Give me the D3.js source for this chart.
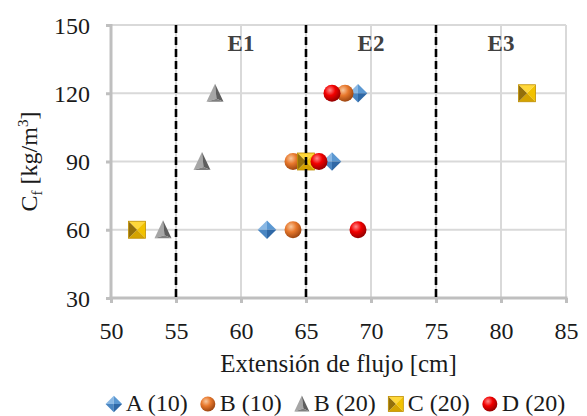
<!DOCTYPE html>
<html><head><meta charset="utf-8">
<script src="https://cdn.jsdelivr.net/npm/d3@7"></script>
<style>body{margin:0;background:#fff}svg{display:block}</style>
</head><body>
<svg id="c" width="587" height="416"></svg>
<script>
// ---- data ----
const xTicks = [50, 55, 60, 65, 70, 75, 80, 85];
const yTicks = [30, 60, 90, 120, 150];
const zoneBounds = [55, 65, 75];
const zoneLabels = ["E1", "E2", "E3"];
const zoneLabelX = [60, 70, 80];
const zoneLabelY = 140;
const seriesNames = ["A (10)", "B (10)", "B (20)", "C (20)", "D (20)"];
const seriesShapes = ["diamond", "orange", "triangle", "square", "red"];
const cfValues = [60, 90, 120];
const A10 = [62, 67, 69];
const B10 = [64, 64, 68];
const B20 = [54, 57, 58];
const C20 = [52, 65, 82];
const D20 = [69, 66, 67];
const seriesX = [A10, B10, B20, C20, D20];

const FONT = '"Liberation Serif"';
const svg = d3.select("#c");
const L = 111, R = 566, T = 25, B = 298;
const x = d3.scaleLinear().domain([50, 85]).range([L, R]);
const y = d3.scaleLinear().domain([30, 150]).range([B, T]);

// gradients
const defs = svg.append("defs");
function radial(id, c0, c1, c2) {
  const g = defs.append("radialGradient").attr("id", id)
    .attr("cx", "0.38").attr("cy", "0.32").attr("r", "0.7");
  g.append("stop").attr("offset", "0").attr("stop-color", c0);
  g.append("stop").attr("offset", "0.45").attr("stop-color", c1);
  g.append("stop").attr("offset", "1").attr("stop-color", c2);
}
radial("gOrange", "#f8c9a0", "#e8782c", "#9a4410");
radial("gRed", "#ff8a8a", "#f20000", "#900000");

// grid
const grid = svg.append("g");
grid.selectAll("line.gx").data(xTicks.slice(1)).join("line")
  .attr("x1", d => x(d)).attr("x2", d => x(d)).attr("y1", T).attr("y2", B)
  .attr("stroke", "#d9d9d9").attr("stroke-width", 2);
grid.selectAll("line.gy").data(yTicks.slice(1)).join("line")
  .attr("x1", L).attr("x2", R).attr("y1", d => y(d)).attr("y2", d => y(d))
  .attr("stroke", "#d9d9d9").attr("stroke-width", 2);

// axes
const xAxis = svg.append("g").attr("transform", `translate(0,${B})`)
  .call(d3.axisBottom(x).tickValues(xTicks).tickSize(5).tickPadding(19));
const yAxis = svg.append("g").attr("transform", `translate(${L},0)`)
  .call(d3.axisLeft(y).tickValues(yTicks).tickSize(5).tickPadding(16));
[xAxis, yAxis].forEach(a => {
  a.attr("font-family", null).attr("font-size", null);
  a.selectAll(".tick line").attr("stroke", "#bfbfbf").attr("stroke-width", 3);
  a.selectAll(".tick text").style("font-family", FONT).style("font-size", "24px").attr("fill", "#1a1a1a");
  a.select(".domain").remove();
});
xAxis.selectAll(".tick text").attr("dy", "0.71em");
yAxis.selectAll(".tick text").attr("dy", "0.34em");
svg.append("line").attr("x1", L - 1.5).attr("x2", R + 1.5).attr("y1", B).attr("y2", B)
  .attr("stroke", "#bfbfbf").attr("stroke-width", 3);
svg.append("line").attr("x1", L).attr("x2", L).attr("y1", T - 1).attr("y2", B + 1.5)
  .attr("stroke", "#bfbfbf").attr("stroke-width", 3);

// markers
function drawMarker(g, shape, s) {
  const h = s / 2;
  if (shape === "diamond") {
    const d = h + 0.8;
    const faces = [
      [[0,-d],[-d,0],[0,0], "#8ab8e4"],
      [[0,-d],[d,0],[0,0], "#5b98d2"],
      [[-d,0],[0,d],[0,0], "#4a86c2"],
      [[d,0],[0,d],[0,0], "#2f68a6"]
    ];
    faces.forEach(f => g.append("path").attr("d", `M${f[0]}L${f[1]}L${f[2]}Z`).attr("fill", f[3]));
  } else if (shape === "square") {
    const faces = [
      [[-h,-h],[h,-h],[0,0], "#ffd83a"],
      [[h,-h],[h,h],[0,0], "#f2c200"],
      [[h,h],[-h,h],[0,0], "#d4a300"],
      [[-h,h],[-h,-h],[0,0], "#94700a"]
    ];
    faces.forEach(f => g.append("path").attr("d", `M${f[0]}L${f[1]}L${f[2]}Z`).attr("fill", f[3]));
    g.append("rect").attr("x", -h).attr("y", -h).attr("width", s).attr("height", s)
      .attr("fill", "none").attr("stroke", "#c09000").attr("stroke-width", 0.8);
  } else if (shape === "triangle") {
    const top = [0, -h - 1], bl = [-h, h], br = [h, h], c = [1.5, h - 3];
    g.append("path").attr("d", `M${top}L${bl}L${c}Z`).attr("fill", "#a6a6a6");
    g.append("path").attr("d", `M${top}L${c}L${br}Z`).attr("fill", "#5e5e5e");
    g.append("path").attr("d", `M${bl}L${br}L${c}Z`).attr("fill", "#7f7f7f");
  } else if (shape === "orange") {
    g.append("circle").attr("r", h).attr("fill", "url(#gOrange)");
  } else if (shape === "red") {
    g.append("circle").attr("r", h).attr("fill", "url(#gRed)");
  }
}

const marks = svg.append("g");
seriesX.forEach((xs, si) => {
  xs.forEach((xv, i) => {
    const g = marks.append("g").attr("transform", `translate(${x(xv)},${y(cfValues[i])})`);
    drawMarker(g, seriesShapes[si], 17);
  });
});

// dashed zone bounds
svg.append("g").selectAll("line").data(zoneBounds).join("line")
  .attr("x1", d => x(d)).attr("x2", d => x(d)).attr("y1", T).attr("y2", B)
  .attr("stroke", "#000").attr("stroke-width", 2.6).attr("stroke-dasharray", "8,4");

// zone labels
svg.append("g").selectAll("text").data(zoneLabels).join("text")
  .attr("x", (d, i) => x(zoneLabelX[i])).attr("y", y(zoneLabelY) + 3)
  .attr("text-anchor", "middle").style("font-family", FONT).style("font-weight", "bold")
  .style("font-size", "23px").attr("fill", "#404040").text(d => d);

// axis titles
svg.append("text").attr("x", (L + R) / 2).attr("y", 372).attr("text-anchor", "middle")
  .style("font-family", FONT).style("font-size", "25px").attr("fill", "#1a1a1a")
  .text("Extensión de flujo [cm]");
const yt = svg.append("text").attr("transform", `translate(37,${(T + B) / 2}) rotate(-90)`)
  .attr("text-anchor", "middle").style("font-family", FONT).style("font-size", "24px").attr("fill", "#1a1a1a");
yt.append("tspan").text("C");
yt.append("tspan").style("font-size", "15px").attr("dy", 5).text("f");
yt.append("tspan").attr("dy", -5).text(" [kg/m");
yt.append("tspan").style("font-size", "15px").attr("dy", -9).text("3");
yt.append("tspan").attr("dy", 9).text("]");

// legend
const leg = svg.append("g");
const items = [];
let cx = 0;
seriesNames.forEach((n, i) => {
  const g = leg.append("g");
  drawMarker(g.append("g").attr("transform", "translate(0,-7)"), seriesShapes[i], 15);
  const t = g.append("text").attr("x", 12).attr("y", 0)
    .style("font-family", FONT).style("font-size", "24px").attr("fill", "#1a1a1a").text(n);
  const w = 12 + t.node().getComputedTextLength();
  items.push({ g, off: cx });
  cx += w + (i < seriesNames.length - 1 ? 20 : 0);
});
const total = cx + 8;
const start = (L + R) / 2 - total / 2 + 8 - 3;
items.forEach(it => it.g.attr("transform", `translate(${start + it.off},411)`));
</script>
</body></html>
